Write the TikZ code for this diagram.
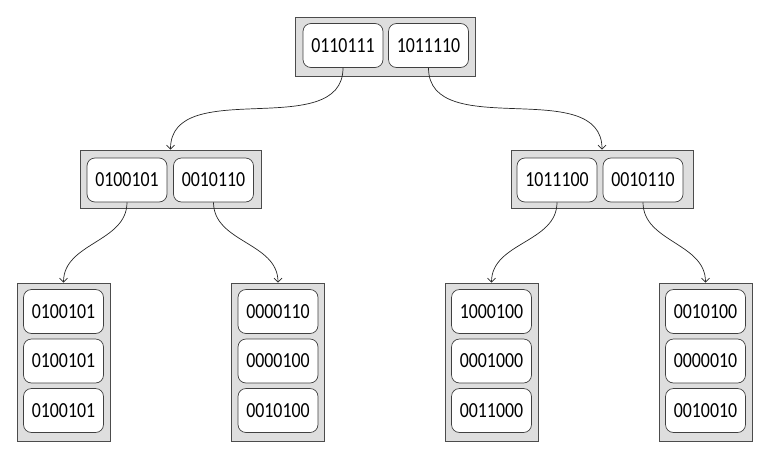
\documentclass[tikz,border=0pt]{standalone}
\usepackage{fontspec}
\setmainfont{Carlito}
\usepackage{graphicx}
\usepackage{tikz}
\usetikzlibrary{arrows.meta}
\newcommand{\bits}[1]{\scalebox{0.83}[1]{#1}}

\begin{document}
\begin{tikzpicture}[x=1pt,y=-1pt]
\tikzstyle{every node}+=[inner sep=0pt]
\tikzstyle{page}=[draw=black!70,fill=black!13,line width=0.8pt]
\tikzstyle{key}=[draw=black!75,fill=white,rounded corners=8pt,line width=0.7pt,minimum width=80pt,minimum height=44pt,font=\fontsize{21.5}{24}\selectfont]
\tikzstyle{link}=[-{Straight Barb[length=4pt,width=8pt]},black!85,line width=0.7pt]
\useasboundingbox (0,0) rectangle (770,458);
% root
\node [page,minimum width=180pt,minimum height=59pt] (root) at (385,46.5) {};
\node [key] (r1) at (343,45.5) {\bits{0110111}};
\node [key] (r2) at (428.5,45.5) {\bits{1011110}};
% inner level
\node [page,minimum width=181pt,minimum height=58pt] (inl) at (170.5,179) {};
\node [key] (l1) at (127,180) {\bits{0100101}};
\node [key] (l2) at (213.5,180) {\bits{0010110}};
\node [page,minimum width=182pt,minimum height=58pt] (inr) at (602,179) {};
\node [key] (m1) at (557,180) {\bits{1011100}};
\node [key] (m2) at (643,180) {\bits{0010110}};
% leaves
\node [page,minimum width=93pt,minimum height=158pt] (leafa) at (63.5,362) {};
\node [key] (a1) at (63.5,311.5) {\bits{0100101}};
\node [key] (a2) at (63.5,361) {\bits{0100101}};
\node [key] (a3) at (63.5,410.5) {\bits{0100101}};
\node [page,minimum width=93pt,minimum height=158pt] (leafb) at (278,362) {};
\node [key] (b1) at (278,311.5) {\bits{0000110}};
\node [key] (b2) at (278,361) {\bits{0000100}};
\node [key] (b3) at (278,410.5) {\bits{0010100}};
\node [page,minimum width=93pt,minimum height=158pt] (leafc) at (491.5,362) {};
\node [key] (c1) at (491.5,311.5) {\bits{1000100}};
\node [key] (c2) at (491.5,361) {\bits{0001000}};
\node [key] (c3) at (491.5,410.5) {\bits{0011000}};
\node [page,minimum width=93pt,minimum height=158pt] (leafd) at (705.5,362) {};
\node [key] (d1) at (705.5,311.5) {\bits{0010100}};
\node [key] (d2) at (705.5,361) {\bits{0000010}};
\node [key] (d3) at (705.5,410.5) {\bits{0010010}};
% pointers
\draw [link] (r1.south) to [out=-90,in=90] (inl.north);
\draw [link] (r2.south) to [out=-90,in=90] (inr.north);
\draw [link] (l1.south) to [out=-90,in=90] (leafa.north);
\draw [link] (l2.south) to [out=-90,in=90] (leafb.north);
\draw [link] (m1.south) to [out=-90,in=90] (leafc.north);
\draw [link] (m2.south) to [out=-90,in=90] (leafd.north);
\end{tikzpicture}
\end{document}
